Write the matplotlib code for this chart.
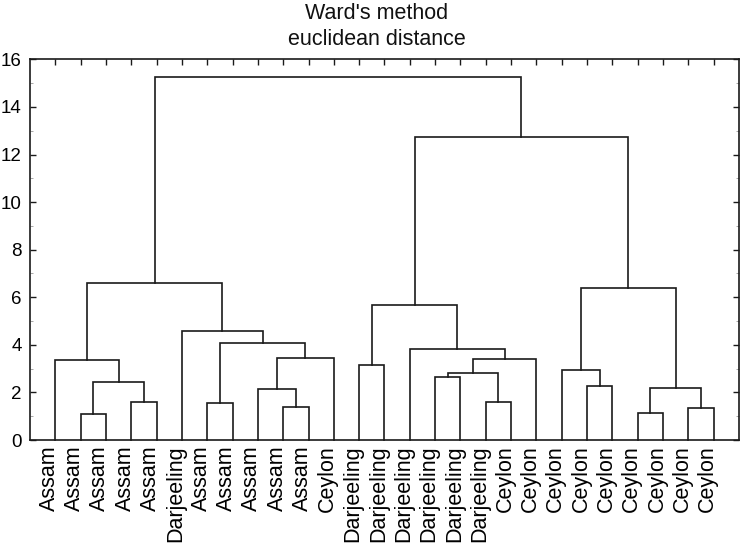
import matplotlib
matplotlib.use("Agg")
import matplotlib.pyplot as plt
from matplotlib.ticker import MultipleLocator
from matplotlib.transforms import ScaledTranslation

plt.rcParams['font.family'] = ['Liberation Sans', 'DejaVu Sans']

# leaf labels, left to right as drawn
labels = (['Assam'] * 5 + ['Darjeeling'] + ['Assam'] * 5 + ['Ceylon']
          + ['Darjeeling'] * 6 + ['Ceylon'] * 9)

# merges: (child a, child b, linkage distance); new clusters get ids 27, 28, ...
merges = [
    (1, 2, 1.09),
    (3, 4, 1.61),
    (27, 28, 2.44),
    (0, 29, 3.36),
    (6, 7, 1.57),
    (9, 10, 1.40),
    (8, 32, 2.13),
    (11, 33, 3.46),
    (31, 34, 4.09),
    (5, 35, 4.60),
    (30, 36, 6.61),
    (12, 13, 3.15),
    (15, 16, 2.63),
    (17, 18, 1.61),
    (39, 40, 2.80),
    (41, 19, 3.42),
    (14, 42, 3.82),
    (38, 43, 5.67),
    (21, 22, 2.27),
    (20, 45, 2.94),
    (23, 24, 1.15),
    (25, 26, 1.33),
    (47, 48, 2.17),
    (46, 49, 6.37),
    (44, 50, 12.72),
    (37, 51, 15.27),
]

n = len(labels)
xpos = {i: i + 1 for i in range(n)}
height = {i: 0.0 for i in range(n)}

fig = plt.figure(figsize=(7.42, 5.48), dpi=100)
ax = fig.add_axes([0.0404, 0.197, 0.9555, 0.6947])

lc = '#1a1a1a'
for k, (a, b, h) in enumerate(merges):
    node = n + k
    ax.plot([xpos[a], xpos[a], xpos[b], xpos[b]],
            [height[a], h, h, height[b]], color=lc, lw=1.2,
            solid_joinstyle='miter', clip_on=False)
    xpos[node] = (xpos[a] + xpos[b]) / 2
    height[node] = h

ax.set_xlim(0, n + 1)
ax.set_ylim(0, 16)
ax.yaxis.set_major_locator(MultipleLocator(2))
ax.yaxis.set_minor_locator(MultipleLocator(1))
ax.set_xticks(range(1, n + 1))
ax.set_xticklabels(labels, rotation=90, fontsize=15.5)
ax.tick_params(axis='y', which='both', direction='in', left=True, right=True,
               color=lc, labelsize=13.5, pad=6)
ax.tick_params(axis='y', which='major', length=4, width=1)
ax.tick_params(axis='y', which='minor', length=2, width=0.6, color='#999999')
ax.tick_params(axis='x', direction='in', top=True, bottom=False, length=4,
               width=1, color=lc, pad=4)
for lab in ax.get_xticklabels():
    lab.set_transform(lab.get_transform()
                      + ScaledTranslation(-6 / 100, 0, fig.dpi_scale_trans))
for s in ax.spines.values():
    s.set_linewidth(1.2)
    s.set_color(lc)

fig.text(0.508, 0.995, "Ward's method\neuclidean distance", ha='center',
         va='top', fontsize=15.5, linespacing=1.35, color='#111111')

fig.savefig('out.png', dpi=100)
